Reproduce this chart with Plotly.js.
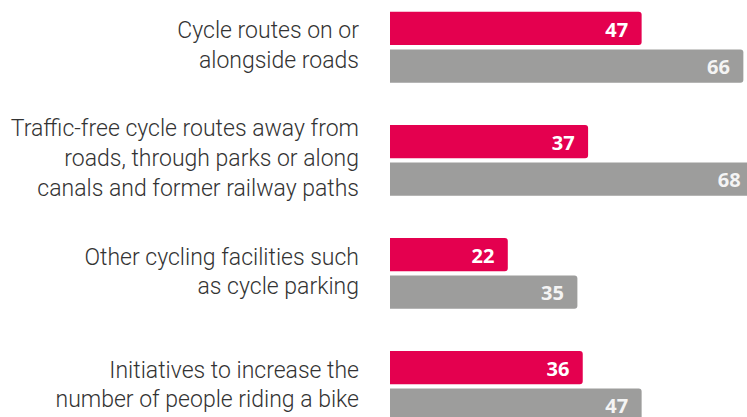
<!DOCTYPE html>
<html>
<head>
<meta charset="utf-8">
<script src="https://cdn.plot.ly/plotly-3.0.1.min.js"></script>
<style>
  html, body { margin: 0; padding: 0; background: #ffffff; }
  #chart { width: 747px; height: 417px; }
</style>
</head>
<body>
<div id="chart"></div>
<script>
// categories (multi-line labels as shown on the left)
const categories = [
    'Cycle routes on or<br>alongside roads',
    'Traffic-free cycle routes away from<br>roads, through parks or along<br>canals and former railway paths',
    'Other cycling facilities such<br>as cycle parking',
    'Initiatives to increase the<br>number of people riding a bike'
];

// series values (%)
const pinkValues = [47, 37, 22, 36];
const greyValues = [66, 68, 35, 47];

const pad = '\u00a0\u00a0';

const tracePink = {
    type: 'bar',
    orientation: 'h',
    y: categories,
    x: pinkValues,
    text: pinkValues.map(v => v + pad),
    textposition: 'inside',
    insidetextanchor: 'end',
    insidetextfont: { family: 'Open Sans, sans-serif', size: 22, color: '#ffffff', weight: 700 },
    marker: { color: '#e4004f', cornerradius: 3 },
    hoverinfo: 'none'
};

const traceGrey = {
    type: 'bar',
    orientation: 'h',
    y: categories,
    x: greyValues,
    text: greyValues.map(v => v + pad),
    textposition: 'inside',
    insidetextanchor: 'end',
    insidetextfont: { family: 'Open Sans, sans-serif', size: 22, color: '#f4f4f4', weight: 700 },
    marker: { color: '#9d9d9c', cornerradius: 3 },
    hoverinfo: 'none'
};

const layout = {
    width: 747,
    height: 417,
    margin: { l: 390, r: 0, t: 0, b: 0, pad: 0 },
    barmode: 'group',
    bargap: 0.335,
    bargroupgap: 0.114,
    showlegend: false,
    paper_bgcolor: '#ffffff',
    plot_bgcolor: '#ffffff',
    xaxis: {
        range: [0, 66.68],
        visible: false,
        fixedrange: true
    },
    yaxis: {
        type: 'category',
        range: [3.27, -0.418],
        showgrid: false,
        zeroline: false,
        showline: false,
        ticks: '',
        automargin: false,
        ticklabelstandoff: 30,
        ticklabelshift: 2,
        tickfont: { family: 'Roboto, sans-serif', size: 23, color: '#333333', weight: 300 },
        fixedrange: true
    }
};

Plotly.newPlot('chart', [tracePink, traceGrey], layout, { staticPlot: true, displayModeBar: false });
</script>
</body>
</html>
